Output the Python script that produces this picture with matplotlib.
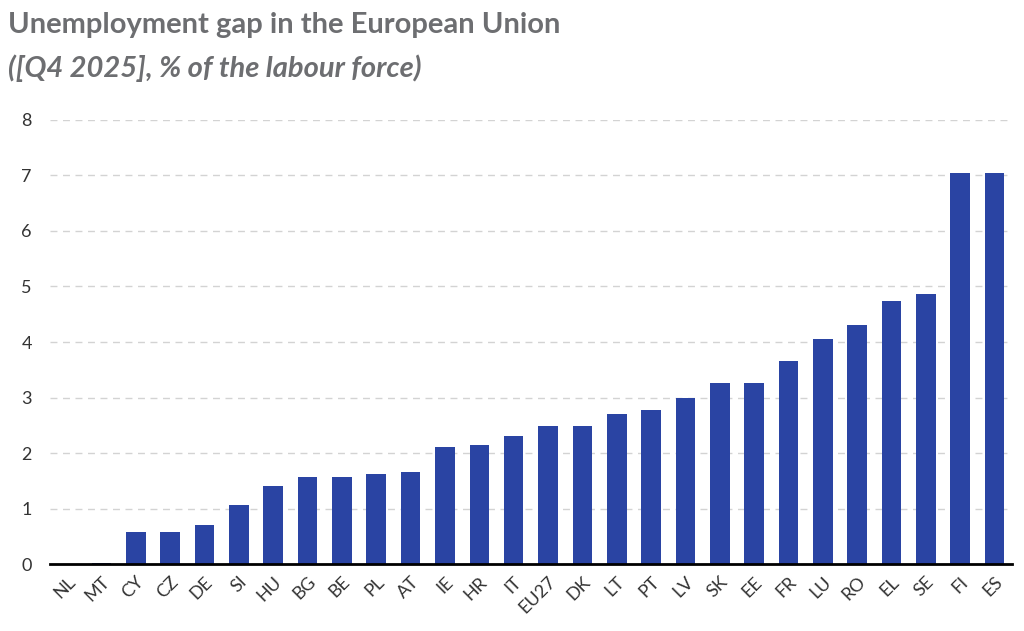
import matplotlib
matplotlib.use("Agg")
import matplotlib.pyplot as plt

countries = ["NL", "MT", "CY", "CZ", "DE", "SI", "HU", "BG", "BE", "PL", "AT", "IE", "HR", "IT",
             "EU27", "DK", "LT", "PT", "LV", "SK", "EE", "FR", "LU", "RO", "EL", "SE", "FI", "ES"]
gap = [0.0, 0.02, 0.58, 0.58, 0.70, 1.07, 1.40, 1.56, 1.57, 1.62, 1.66, 2.11, 2.14, 2.31,
       2.49, 2.49, 2.71, 2.78, 2.99, 3.27, 3.27, 3.66, 4.05, 4.31, 4.74, 4.86, 7.05, 7.05]
yticks = [0, 1, 2, 3, 4, 5, 6, 7, 8]

plt.rcParams['font.family'] = ["Lato", "DejaVu Sans"]

fig = plt.figure(figsize=(10.24, 6.31), dpi=100)
ax = fig.add_axes([0.0488, 0.106, 0.9392, 0.704])
x = range(len(countries))
ax.bar(x, gap, width=0.57, color="#2a44a3", zorder=3)
ax.set_xlim(-0.5, len(countries) - 0.5)
ax.set_ylim(0, 8)
ax.set_yticks(yticks)
ax.set_yticklabels([str(t) for t in yticks], fontsize=13, color="#333333")
ax.set_xticks(list(x))
ax.set_xticklabels(countries, rotation=45, ha="right", va="top", rotation_mode="anchor",
                   fontsize=13, color="#333333")
ax.tick_params(axis="y", length=0, pad=13)
ax.tick_params(axis="x", length=0, pad=7)
for s in ["top", "right", "left"]:
    ax.spines[s].set_visible(False)
ax.spines["bottom"].set_linewidth(2)
ax.spines["bottom"].set_color("black")
ax.spines["bottom"].set_zorder(4)
ax.yaxis.grid(True, color="#d3d3d3", linestyle=(0, (5, 4)), linewidth=1, zorder=0)
ax.set_axisbelow(True)

fig.text(0.008, 0.947, "Unemployment gap in the European Union", fontsize=21, fontweight="bold",
         color="#6d6e71", ha="left", va="baseline")
fig.text(0.008, 0.878, "([Q4 2025], % of the labour force)", fontsize=21, fontweight="bold",
         style="italic", color="#6d6e71", ha="left", va="baseline")
fig.savefig("out.png", dpi=100)
